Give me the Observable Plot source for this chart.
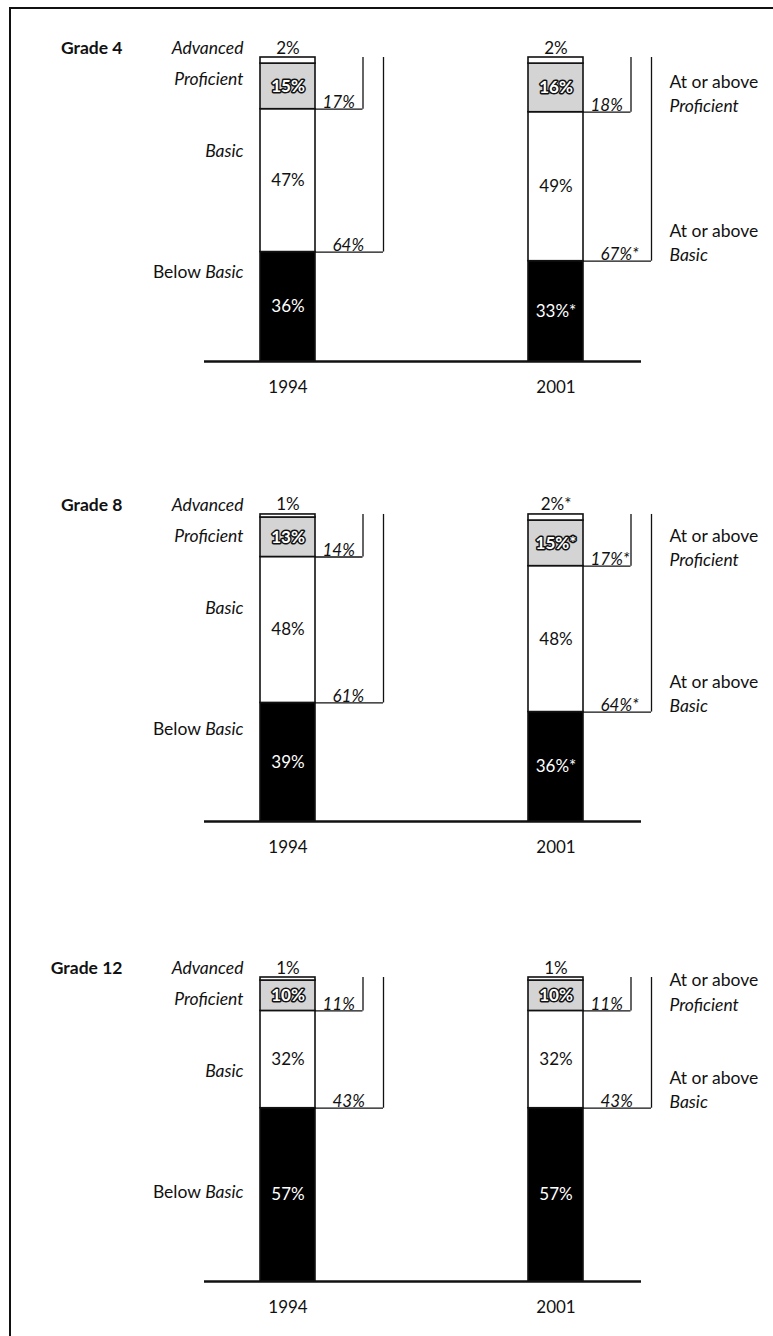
<!DOCTYPE html>
<html><head><meta charset="utf-8">
<script src="https://cdn.jsdelivr.net/npm/d3@7"></script>
<script src="https://cdn.jsdelivr.net/npm/@observablehq/plot@0.6"></script>
<style>
body{margin:0;background:#fff;}
#chart{position:relative;width:773px;height:1336px;overflow:hidden;font-family:Lato,"Noto Sans",sans-serif;}
#frame{position:absolute;left:9px;top:7px;right:-10px;bottom:-10px;border-top:2px solid #111;border-left:2px solid #111;pointer-events:none;}
#chart svg{display:block;}
</style></head><body><div id="chart"><div id="frame"></div></div>
<script>
const grades = ["Grade 4", "Grade 8", "Grade 12"];
const years = ["1994", "2001"];
const levels = ["Below Basic", "Basic", "Proficient", "Advanced"];
// percentages [grade][year]
const belowBasic = [[36, 33], [39, 36], [57, 57]];
const basic = [[47, 49], [48, 48], [32, 32]];
const proficient = [[15, 16], [13, 15], [10, 10]];
const advanced = [[2, 2], [1, 2], [1, 1]];
const atOrAboveProficient = [[17, 18], [14, 17], [11, 11]];
const atOrAboveBasic = [[64, 67], [61, 64], [43, 43]];
// "*" = significantly different from 1994
const starBelowBasic = [["", "*"], ["", "*"], ["", ""]];
const starBasic = [["", ""], ["", ""], ["", ""]];
const starProficient = [["", ""], ["", "*"], ["", ""]];
const starAdvanced = [["", ""], ["", "*"], ["", ""]];
const starAtProficient = [["", ""], ["", "*"], ["", ""]];
const starAtBasic = [["", "*"], ["", "*"], ["", ""]];

const series = [belowBasic, basic, proficient, advanced];
const stars = [starBelowBasic, starBasic, starProficient, starAdvanced];

function rowsFor(g) {
  const rows = [];
  years.forEach((year, j) => {
    let acc = 0;
    levels.forEach((level, k) => {
      const v = series[k][g][j];
      rows.push({year, level, value: v, y1: acc, y2: acc + v, mid: acc + v / 2, label: v + "%" + stars[k][g][j]});
      acc += v;
    });
  });
  return rows;
}
function bracketsFor(g, rows) {
  return years.map((year, j) => {
    const r = rows.filter(d => d.year === year);
    return {
      year,
      top: r[3].y2,
      profY: r[2].y1,
      basicY: r[1].y1,
      profLabel: atOrAboveProficient[g][j] + "%" + starAtProficient[g][j],
      basicLabel: atOrAboveBasic[g][j] + "%" + starAtBasic[g][j]
    };
  });
}

const heights = [460, 460, 416];
const barPx = 304;
const bw = 55;
const wordSize = 17.5;
const numSize = 17;
const chart = document.getElementById("chart");

grades.forEach((grade, g) => {
  const rows = rowsFor(g);
  const br = bracketsFor(g, rows);
  const top1994 = br[0].top;
  const h = heights[g];
  const leftLabel = (txt, dy, extra = {}) => Plot.text([txt], {
    x: () => years[0], y: () => top1994, text: d => d, fontSize: wordSize, fill: "#111",
    textAnchor: "end", dx: -44.5, dy, lineAnchor: "middle", fontStyle: "italic", ...extra
  });
  const svg = Plot.plot({
    width: 773,
    height: h,
    marginTop: 57,
    marginBottom: h - 57 - barPx,
    marginLeft: 259,
    marginRight: 190,
    style: {fontFamily: "Lato, 'Noto Sans', sans-serif", fontSize: numSize + "px", background: "transparent", color: "#111", overflow: "visible"},
    x: {domain: years, paddingInner: 0.7955, paddingOuter: 0, axis: null},
    y: {domain: [0, 100], axis: null},
    color: {domain: levels, range: ["#000", "#fff", "#d4d4d4", "#fff"]},
    marks: [
      Plot.barY(rows, {x: "year", y1: "y1", y2: "y2", fill: "level", stroke: "#111", strokeWidth: 1.6}),
      Plot.ruleY([0], {insetLeft: -55, insetRight: -58, stroke: "#111", strokeWidth: 2.5}),
      // brackets
      Plot.ruleX(br, {x: "year", y1: "top", y2: "profY", dx: 75, stroke: "#111", strokeWidth: 1.3}),
      Plot.ruleX(br, {x: "year", y1: "top", y2: "basicY", dx: 95.5, stroke: "#111", strokeWidth: 1.3}),
      Plot.tickY(br, {x: "year", y: "profY", insetLeft: bw, insetRight: bw - 102.5, stroke: "#111", strokeWidth: 1.3}),
      Plot.tickY(br, {x: "year", y: "basicY", insetLeft: bw, insetRight: bw - 123, stroke: "#111", strokeWidth: 1.3}),
      Plot.text(br, {x: "year", y: "profY", text: "profLabel", textAnchor: "start", dx: 34.5, dy: -1, lineAnchor: "bottom", fontStyle: "italic", fill: "#111"}),
      Plot.text(br, {x: "year", y: "basicY", text: "basicLabel", textAnchor: "start", dx: 44.5, dy: -1, lineAnchor: "bottom", fontStyle: "italic", fill: "#111"}),
      // value labels
      Plot.text(rows.filter(d => d.level === "Below Basic"), {x: "year", y: "mid", text: "label", fill: "#fff"}),
      Plot.text(rows.filter(d => d.level === "Basic"), {x: "year", y: "mid", text: "label", fill: "#111"}),
      Plot.text(rows.filter(d => d.level === "Proficient"), {x: "year", y: "mid", text: "label", fill: "#fff", stroke: "#111", strokeWidth: 3, fontWeight: "bold"}),
      Plot.text(rows.filter(d => d.level === "Advanced"), {x: "year", y: "y2", text: "label", lineAnchor: "bottom", dy: -4, fill: "#111"}),
      // level labels on the left
      leftLabel("Advanced", -9),
      leftLabel("Proficient", 22),
      leftLabel("Basic", 94),
      leftLabel("Below Basic", 215, {fontStyle: "normal"}),
      // grade title
      Plot.text([grade], {x: () => years[0], y: () => top1994, text: d => d, textAnchor: "end", dx: -165.5, dy: -9, fontWeight: "bold", fontSize: 17.5, fill: "#111"}),
      // right-hand cumulative labels
      Plot.text(br.filter(d => d.year === years[1]), {x: "year", y: "profY", text: () => "At or above\nProficient", textAnchor: "start", dx: 113.5, dy: 0, lineAnchor: "bottom", lineHeight: 1.4, fontSize: wordSize, fill: "#111"}),
      Plot.text(br.filter(d => d.year === years[1]), {x: "year", y: "basicY", text: () => "At or above\nBasic", textAnchor: "start", dx: 113.5, dy: 0, lineAnchor: "bottom", lineHeight: 1.4, fontSize: wordSize, fill: "#111"}),
      Plot.axisX({tickSize: 0, tickPadding: 19, label: null, fill: "#111"})
    ]
  });
  // mixed roman / italic text
  svg.querySelectorAll("text").forEach(t => {
    if (t.children.length === 0 && t.textContent === "Below Basic") {
      t.textContent = "Below ";
      const ts = document.createElementNS("http://www.w3.org/2000/svg", "tspan");
      ts.setAttribute("font-style", "italic");
      ts.textContent = "Basic";
      t.appendChild(ts);
    }
    const tspans = t.querySelectorAll("tspan");
    if (tspans.length === 2 && tspans[0].textContent === "At or above") {
      tspans[1].setAttribute("font-style", "italic");
    }
  });
  chart.appendChild(svg);
});
</script>
</body></html>
